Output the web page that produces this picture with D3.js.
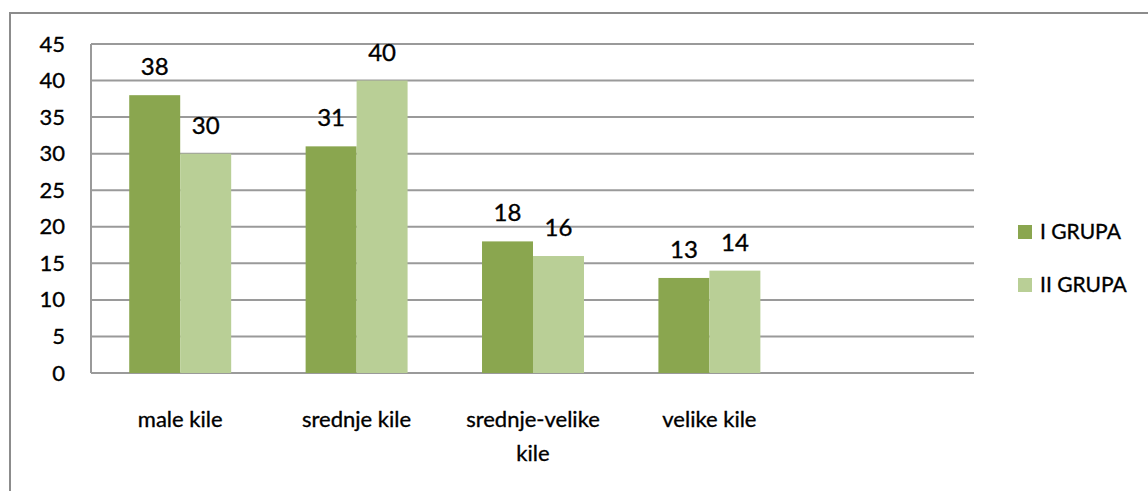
<!DOCTYPE html>
<html>
<head>
<meta charset="utf-8">
<script src="https://cdn.jsdelivr.net/npm/d3@7"></script>
<style>
  body { margin: 0; background: #fff; }
  text { font-family: Lato, "Open Sans", sans-serif; fill: #000; stroke: #000; stroke-width: 0.35px; }
</style>
</head>
<body>
<svg id="chart" width="1148" height="491"></svg>
<script>
// chart data
var categories = ["male kile", "srednje kile", "srednje-velike kile", "velike kile"];
var seriesNames = ["I GRUPA", "II GRUPA"];
var grupa1 = [38, 31, 18, 13];
var grupa2 = [30, 40, 16, 14];
var yTicks = [0, 5, 10, 15, 20, 25, 30, 35, 40, 45];

var colors = ["#8aa64f", "#b9cf96"];

var svg = d3.select("#chart");
var margin = { left: 92, top: 44, right: 974, bottom: 373 };

// outer frame, runs past the right and bottom edge like the original
svg.append("rect")
    .attr("x", 10).attr("y", 13)
    .attr("width", 1160).attr("height", 500)
    .attr("fill", "none")
    .attr("stroke", "#8c8c8c")
    .attr("stroke-width", 2);

// the plot keeps room for a fifth empty slot on the right
var slots = categories.concat([""]);
var x = d3.scaleBand()
    .domain(slots)
    .range([margin.left, margin.right]);

var x1 = d3.scaleBand()
    .domain(seriesNames)
    .range([0, x.bandwidth()])
    .paddingInner(0)
    .paddingOuter(0.73);

var y = d3.scaleLinear()
    .domain([0, 45])
    .range([margin.bottom, margin.top]);

// gridlines
svg.append("g").selectAll("line")
    .data(yTicks)
    .join("line")
    .attr("x1", margin.left - 1)
    .attr("x2", margin.right)
    .attr("y1", function(d) { return y(d); })
    .attr("y2", function(d) { return y(d); })
    .attr("stroke", "#9a9a9a")
    .attr("stroke-width", 2);

svg.append("line")
    .attr("x1", margin.left - 1).attr("x2", margin.left - 1)
    .attr("y1", margin.top).attr("y2", margin.bottom)
    .attr("stroke", "#9a9a9a")
    .attr("stroke-width", 2);

// y tick labels
var yAxis = svg.append("g")
    .attr("transform", "translate(" + (margin.left - 27) + ",0)")
    .call(d3.axisLeft(y).tickValues(yTicks).tickSize(0).tickPadding(0));
yAxis.select(".domain").remove();
yAxis.selectAll("text")
    .attr("font-size", 22)
    .attr("font-family", "Lato, sans-serif")
    .attr("fill", "#000");

// bars
var rows = categories.map(function(c, i) {
    return { cat: c, values: [grupa1[i], grupa2[i]] };
});

var groups = svg.append("g").selectAll("g")
    .data(rows)
    .join("g")
    .attr("transform", function(d) { return "translate(" + x(d.cat) + ",0)"; });

groups.selectAll("rect")
    .data(function(d) {
        return d.values.map(function(v, j) { return { name: seriesNames[j], value: v, j: j }; });
    })
    .join("rect")
    .attr("x", function(d) { return x1(d.name); })
    .attr("width", x1.bandwidth())
    .attr("y", function(d) { return y(d.value); })
    .attr("height", function(d) { return y(0) - y(d.value); })
    .attr("fill", function(d) { return colors[d.j]; });

// value labels
groups.selectAll("text.val")
    .data(function(d) {
        return d.values.map(function(v, j) { return { name: seriesNames[j], value: v }; });
    })
    .join("text")
    .attr("class", "val")
    .attr("x", function(d) { return x1(d.name) + x1.bandwidth() / 2; })
    .attr("y", function(d) { return y(d.value) - 20; })
    .attr("text-anchor", "middle")
    .attr("font-size", 24)
    .text(function(d) { return d.value; });

// category labels, wrapped like the original
var wrapped = {
    "srednje-velike kile": ["srednje-velike", "kile"]
};
groups.append("text")
    .attr("x", x.bandwidth() / 2)
    .attr("y", 427)
    .attr("text-anchor", "middle")
    .attr("font-size", 22)
    .selectAll("tspan")
    .data(function(d) { return wrapped[d.cat] || [d.cat]; })
    .join("tspan")
    .attr("x", x.bandwidth() / 2)
    .attr("dy", function(d, i) { return i === 0 ? 0 : 34; })
    .text(function(d) { return d; });

// legend
var legend = svg.append("g").selectAll("g")
    .data(seriesNames)
    .join("g")
    .attr("transform", function(d, i) { return "translate(1018," + (225 + i * 53) + ")"; });

legend.append("rect")
    .attr("width", 14).attr("height", 14)
    .attr("fill", function(d, i) { return colors[i]; });

legend.append("text")
    .attr("x", 22)
    .attr("y", 7)
    .attr("dy", "0.35em")
    .attr("font-size", 21)
    .text(function(d) { return d; });
</script>
</body>
</html>
